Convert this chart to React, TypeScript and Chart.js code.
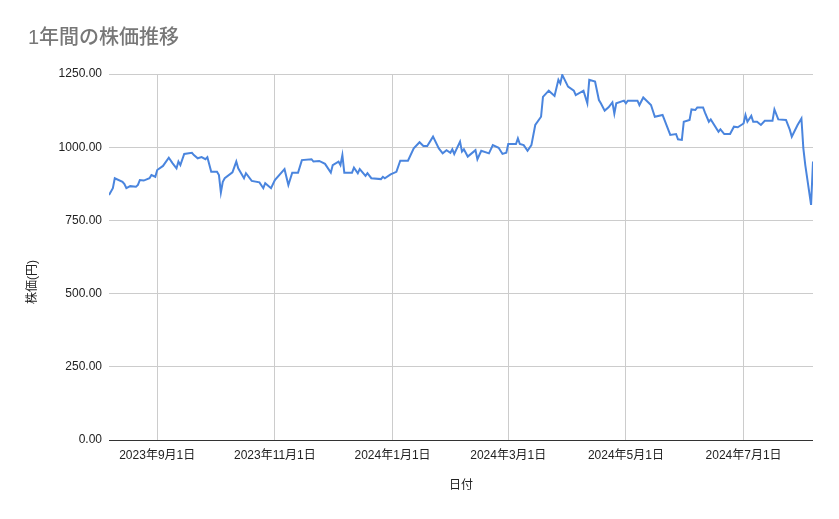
import { useEffect, useRef } from 'react';
import { Chart, registerables } from 'chart.js';

Chart.register(...registerables);

const FONT = 'Arial, "Liberation Sans", "Noto Sans CJK JP", sans-serif';

const chartTitle = '1年間の株価推移';
const xAxisTitle = '日付';
const yAxisTitle = '株価(円)';

// 日付と終値 (読み取り値)
const dates = [
  '2023-08-07', '2023-08-09', '2023-08-10', '2023-08-14', '2023-08-15', '2023-08-16', '2023-08-18',
  '2023-08-21', '2023-08-22', '2023-08-23', '2023-08-25', '2023-08-28', '2023-08-29', '2023-08-31',
  '2023-09-01', '2023-09-04', '2023-09-07', '2023-09-09', '2023-09-11', '2023-09-12', '2023-09-13',
  '2023-09-15', '2023-09-19', '2023-09-20', '2023-09-22', '2023-09-24', '2023-09-26', '2023-09-27',
  '2023-09-29', '2023-10-02', '2023-10-03', '2023-10-04', '2023-10-05', '2023-10-06', '2023-10-10',
  '2023-10-12', '2023-10-13', '2023-10-16', '2023-10-17', '2023-10-20', '2023-10-24', '2023-10-26',
  '2023-10-27', '2023-10-30', '2023-11-01', '2023-11-06', '2023-11-08', '2023-11-10', '2023-11-13',
  '2023-11-15', '2023-11-20', '2023-11-21', '2023-11-24', '2023-11-27', '2023-11-30', '2023-12-01',
  '2023-12-04', '2023-12-05', '2023-12-06', '2023-12-07', '2023-12-11', '2023-12-12', '2023-12-14',
  '2023-12-15', '2023-12-18', '2023-12-19', '2023-12-21', '2023-12-26', '2023-12-27', '2023-12-28',
  '2023-12-31', '2024-01-03', '2024-01-05', '2024-01-09', '2024-01-12', '2024-01-15', '2024-01-17',
  '2024-01-19', '2024-01-22', '2024-01-25', '2024-01-27', '2024-01-29', '2024-01-31', '2024-02-01',
  '2024-02-02', '2024-02-05', '2024-02-06', '2024-02-07', '2024-02-09', '2024-02-13', '2024-02-14',
  '2024-02-16', '2024-02-20', '2024-02-22', '2024-02-25', '2024-02-27', '2024-02-29', '2024-03-01',
  '2024-03-05', '2024-03-06', '2024-03-07', '2024-03-09', '2024-03-11', '2024-03-13', '2024-03-15',
  '2024-03-18', '2024-03-19', '2024-03-22', '2024-03-25', '2024-03-27', '2024-03-28', '2024-03-29',
  '2024-04-01', '2024-04-04', '2024-04-05', '2024-04-09', '2024-04-11', '2024-04-12', '2024-04-15',
  '2024-04-17', '2024-04-18', '2024-04-20', '2024-04-22', '2024-04-24', '2024-04-25', '2024-04-26',
  '2024-04-30', '2024-05-01', '2024-05-02', '2024-05-07', '2024-05-08', '2024-05-10', '2024-05-14',
  '2024-05-16', '2024-05-20', '2024-05-21', '2024-05-24', '2024-05-27', '2024-05-28', '2024-05-30',
  '2024-05-31', '2024-06-03', '2024-06-04', '2024-06-06', '2024-06-07', '2024-06-10', '2024-06-11',
  '2024-06-13', '2024-06-14', '2024-06-18', '2024-06-19', '2024-06-21', '2024-06-24', '2024-06-26',
  '2024-06-28', '2024-07-01', '2024-07-02', '2024-07-03', '2024-07-05', '2024-07-06', '2024-07-08',
  '2024-07-10', '2024-07-12', '2024-07-16', '2024-07-17', '2024-07-19', '2024-07-23', '2024-07-25',
  '2024-07-26', '2024-07-29', '2024-07-31', '2024-08-01', '2024-08-02', '2024-08-05', '2024-08-06',
];

const prices = [
  837, 860, 894, 882, 874, 860, 867,
  865, 871, 888, 886, 894, 905, 899,
  922, 936, 964, 945, 928, 951, 939,
  977, 981, 973, 962, 966, 959, 966,
  916, 916, 905, 845, 882, 894, 914,
  951, 928, 894, 911, 885, 880, 860,
  877, 860, 888, 925, 871, 913, 913,
  956, 959, 951, 953, 943, 913, 939,
  951, 939, 973, 913, 913, 930, 911,
  925, 902, 911, 894, 891, 899, 894,
  907, 916, 954, 954, 996, 1017, 1004,
  1004, 1036, 996, 979, 990, 981, 993,
  977, 1019, 985, 993, 968, 990, 959,
  988, 979, 1007, 998, 977, 981, 1011,
  1011, 1030, 1011, 1007, 988, 1007, 1076,
  1104, 1172, 1193, 1175, 1230, 1218, 1247,
  1207, 1193, 1178, 1193, 1150, 1230, 1224,
  1161, 1150, 1125, 1136, 1153, 1115, 1150,
  1159, 1150, 1159, 1159, 1144, 1170, 1144,
  1104, 1110, 1093, 1042, 1045, 1027, 1025,
  1087, 1093, 1129, 1127, 1136, 1136, 1118,
  1087, 1095, 1053, 1061, 1045, 1045, 1070,
  1068, 1081, 1110, 1087, 1107, 1087, 1087,
  1076, 1090, 1090, 1129, 1095, 1093, 1059,
  1036, 1076, 1098, 996, 939, 803, 951,
];

const xTickDates = ['2023-09-01', '2023-11-01', '2024-01-01', '2024-03-01', '2024-05-01', '2024-07-01'];
const xTickLabels = ['2023年9月1日', '2023年11月1日', '2024年1月1日', '2024年3月1日', '2024年5月1日', '2024年7月1日'];
const yTicks = [0, 250, 500, 750, 1000, 1250];

const DAY = 86400000;
const toDay = (s: string) => {
  const [y, m, d] = s.split('-').map(Number);
  return Date.UTC(y, m - 1, d) / DAY;
};

// タイトルと軸タイトルを描く
const textPlugin = {
  id: 'sheetText',
  afterDraw(chart: Chart) {
    const { ctx, chartArea } = chart;
    ctx.save();
    ctx.fillStyle = '#777777';
    ctx.font = `500 20px ${FONT}`;
    ctx.textAlign = 'left';
    ctx.textBaseline = 'middle';
    ctx.fillText(chartTitle, 28, 38);

    ctx.fillStyle = '#222';
    ctx.font = `12px ${FONT}`;
    ctx.textAlign = 'center';
    ctx.fillText(xAxisTitle, (chartArea.left + chartArea.right) / 2, 486);

    ctx.translate(33, 282);
    ctx.rotate(-Math.PI / 2);
    ctx.fillText(yAxisTitle, 0, 0);
    ctx.restore();
  },
};

export default function App() {
  const canvasRef = useRef<HTMLCanvasElement>(null);
  const chartRef = useRef<Chart | null>(null);

  useEffect(() => {
    if (!canvasRef.current) return;
    const ctx = canvasRef.current.getContext('2d');
    if (!ctx) return;

    if (chartRef.current) chartRef.current.destroy();

    chartRef.current = new Chart(ctx, {
      type: 'line',
      data: {
        datasets: [
          {
            label: '株価',
            data: dates.map((d, i) => ({ x: toDay(d), y: prices[i] })),
            borderColor: '#4a85de',
            borderWidth: 2,
            pointRadius: 0,
            pointHoverRadius: 0,
            tension: 0,
            fill: false,
          },
        ],
      },
      options: {
        responsive: true,
        maintainAspectRatio: false,
        animation: false,
        layout: { padding: { left: 0, right: 26, top: 74, bottom: 49 } },
        plugins: {
          legend: { display: false },
          title: { display: false },
          tooltip: { enabled: false },
        },
        scales: {
          x: {
            type: 'linear',
            min: toDay(dates[0]),
            max: toDay(dates[dates.length - 1]),
            afterBuildTicks: (scale: any) => {
              scale.ticks = xTickDates.map((d) => ({ value: toDay(d) }));
            },
            afterFit: (scale: any) => {
              scale.height = 30;
            },
            ticks: {
              autoSkip: false,
              maxRotation: 0,
              padding: 8,
              color: '#222',
              font: { family: FONT, size: 12 },
              callback: (_v: any, i: number) => xTickLabels[i],
            },
            grid: { color: '#cccccc', drawTicks: false, lineWidth: 1 },
            border: { display: false },
          },
          y: {
            min: 0,
            max: 1250,
            afterBuildTicks: (scale: any) => {
              scale.ticks = yTicks.map((v) => ({ value: v }));
            },
            afterFit: (scale: any) => {
              scale.width = 109;
            },
            ticks: {
              padding: 7,
              color: '#222',
              font: { family: FONT, size: 12 },
              callback: (v: any) => Number(v).toFixed(2),
            },
            grid: {
              color: (c: any) => (c.tick && c.tick.value === 0 ? '#333333' : '#cccccc'),
              drawTicks: false,
              lineWidth: 1,
            },
            border: { display: false },
          },
        },
      },
      plugins: [textPlugin],
    });

    return () => {
      if (chartRef.current) {
        chartRef.current.destroy();
        chartRef.current = null;
      }
    };
  }, []);

  return (
    <div style={{ position: 'fixed', left: 0, top: 0, width: 839, height: 519, background: '#fff' }}>
      <canvas ref={canvasRef} />
    </div>
  );
}
